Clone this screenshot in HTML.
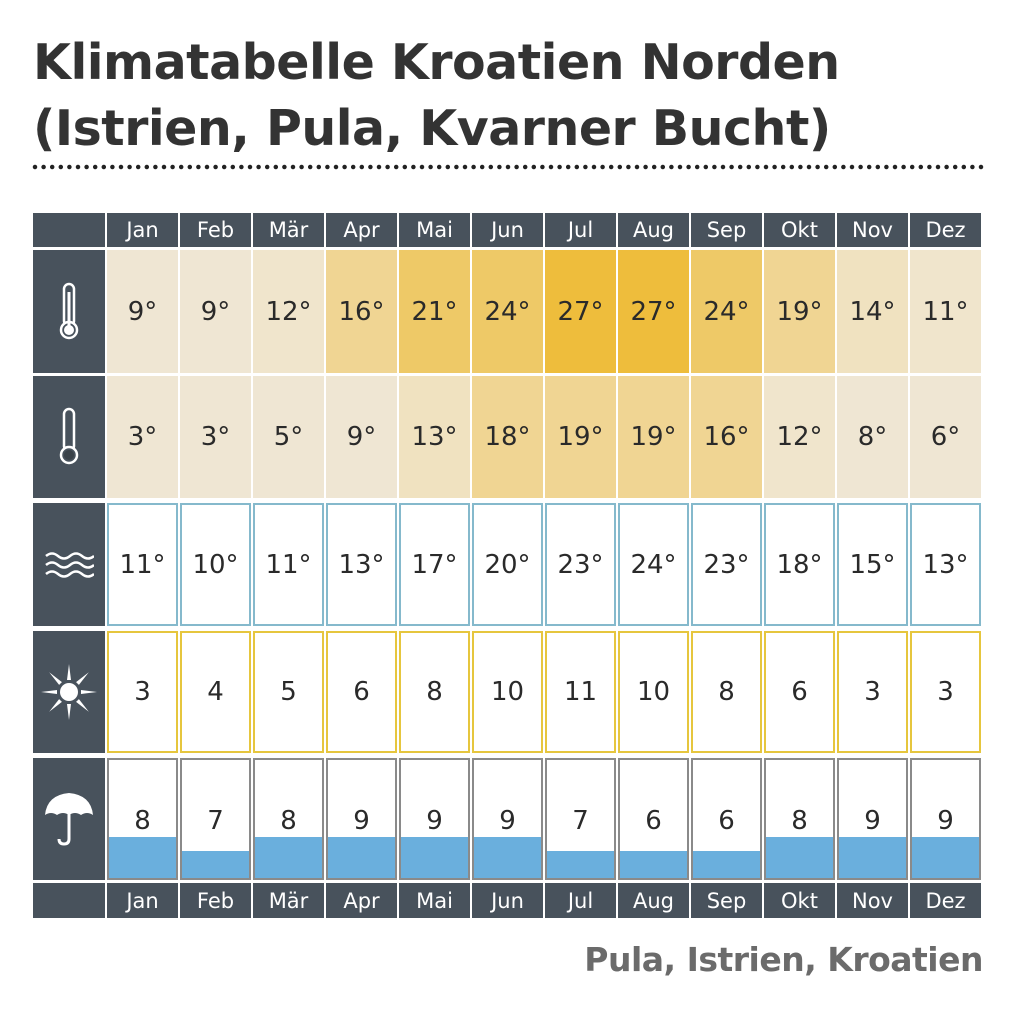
<!DOCTYPE html><html><head><meta charset="utf-8"><style>
body{margin:0;width:1025px;height:1015px;background:#fff;position:relative;font-family:"DejaVu Sans","Liberation Sans",sans-serif;overflow:hidden}
.t{position:absolute;left:33px;font-weight:bold;font-size:49px;color:#333;letter-spacing:-0.5px;line-height:1}
.c{position:absolute;box-sizing:border-box;display:flex;align-items:center;justify-content:center;color:#2a2a2a;font-size:26px}
.h{background:#48525c;color:#fff;font-size:21px}
.w{border:2px solid #85b9cc;background:#fff}
.s{border:2px solid #e6c63e;background:#fff}
.r{border:2px solid #8a8a8a;background:#fff;align-items:flex-start;padding-top:46px}
.bar{position:absolute;left:0;right:0;bottom:0;background:#6aafdd}
.rv{position:relative;z-index:1}
</style></head><body>
<div class="t" style="top:38px">Klimatabelle Kroatien Norden</div>
<div class="t" style="top:104px">(Istrien, Pula, Kvarner Bucht)</div>
<svg style="position:absolute;left:0;top:160px" width="1025" height="14"><line x1="35" y1="7" x2="983" y2="7" stroke="#222" stroke-width="4.5" stroke-linecap="round" stroke-dasharray="0 8.6"/></svg>
<div class="c h" style="left:33px;top:213px;width:72px;height:34px"></div>
<div class="c h" style="left:33px;top:250px;width:72px;height:123px"><svg width="24" height="60" viewBox="0 0 24 60"><rect x="7" y="2" width="10" height="42" rx="5" fill="none" stroke="#fff" stroke-width="2.5"/><circle cx="12" cy="48" r="8" fill="#48525c" stroke="#fff" stroke-width="2.5"/><rect x="10.5" y="10" width="3" height="34" fill="#fff"/><circle cx="12" cy="48" r="5" fill="#fff"/></svg></div>
<div class="c h" style="left:33px;top:376px;width:72px;height:122px"><svg width="24" height="60" viewBox="0 0 24 60"><rect x="7" y="2" width="10" height="42" rx="5" fill="none" stroke="#fff" stroke-width="2.5"/><circle cx="12" cy="48" r="8" fill="#48525c" stroke="#fff" stroke-width="2.5"/><circle cx="12" cy="48" r="5" fill="#3a4249"/></svg></div>
<div class="c h" style="left:33px;top:503px;width:72px;height:123px"><svg width="50" height="30" viewBox="0 0 50 30" fill="none" stroke="#fff" stroke-width="2.5"><path d="M2 6q6-5 12 0t12 0 12 0 12 0"/><path d="M2 15q6-5 12 0t12 0 12 0 12 0"/><path d="M2 24q6-5 12 0t12 0 12 0 12 0"/></svg></div>
<div class="c h" style="left:33px;top:631px;width:72px;height:122px"><svg width="60" height="60" viewBox="-30 -30 60 60" fill="#fff"><circle r="9"/><g id="ray"><polygon points="-2,-12 2,-12 0,-28"/></g><use href="#ray" transform="rotate(45)"/><use href="#ray" transform="rotate(90)"/><use href="#ray" transform="rotate(135)"/><use href="#ray" transform="rotate(180)"/><use href="#ray" transform="rotate(225)"/><use href="#ray" transform="rotate(270)"/><use href="#ray" transform="rotate(315)"/></svg></div>
<div class="c h" style="left:33px;top:758px;width:72px;height:122px"><svg width="52" height="56" viewBox="0 0 52 56"><path d="M2 24Q4 4 26 2Q48 4 50 24Q44 20 38 24Q32 20 26 24Q20 20 14 24Q8 20 2 24Z" fill="#fff"/><path d="M26 22V48q0 5-5 5t-5-5" fill="none" stroke="#fff" stroke-width="3"/></svg></div>
<div class="c h" style="left:33px;top:883px;width:72px;height:35px"></div>
<div id="g"></div>
<div style="position:absolute;right:42px;top:940px;font-weight:bold;font-size:33px;color:#6b6b6b;letter-spacing:-0.5px">Pula, Istrien, Kroatien</div>
<script>
var m=["Jan","Feb","Mär","Apr","Mai","Jun","Jul","Aug","Sep","Okt","Nov","Dez"];
var mx=[9,9,12,16,21,24,27,27,24,19,14,11],mn=[3,3,5,9,13,18,19,19,16,12,8,6],wa=[11,10,11,13,17,20,23,24,23,18,15,13],su=[3,4,5,6,8,10,11,10,8,6,3,3],ra=[8,7,8,9,9,9,7,6,6,8,9,9];
function col(v){if(v>=27)return"#eebd3c";if(v>=21)return"#eec967";if(v>=16)return"#f0d593";if(v>=13)return"#f0e2c0";if(v>=11)return"#f0e5cc";return"#efe6d3";}
var h="";
for(var i=0;i<12;i++){var x=107+i*73;
h+='<div class="c h" style="left:'+x+'px;top:213px;width:71px;height:34px">'+m[i]+'</div>';
h+='<div class="c" style="left:'+x+'px;top:250px;width:71px;height:123px;background:'+col(mx[i])+'">'+mx[i]+'°</div>';
h+='<div class="c" style="left:'+x+'px;top:376px;width:71px;height:122px;background:'+col(mn[i])+'">'+mn[i]+'°</div>';
h+='<div class="c w" style="left:'+x+'px;top:503px;width:71px;height:123px">'+wa[i]+'°</div>';
h+='<div class="c s" style="left:'+x+'px;top:631px;width:71px;height:122px">'+su[i]+'</div>';
var bh=ra[i]>=8?41:27;
h+='<div class="c r" style="left:'+x+'px;top:758px;width:71px;height:122px"><div class="bar" style="height:'+bh+'px"></div><span class="rv">'+ra[i]+'</span></div>';
h+='<div class="c h" style="left:'+x+'px;top:883px;width:71px;height:35px">'+m[i]+'</div>';}
document.getElementById("g").innerHTML=h;
</script>
</body></html>
